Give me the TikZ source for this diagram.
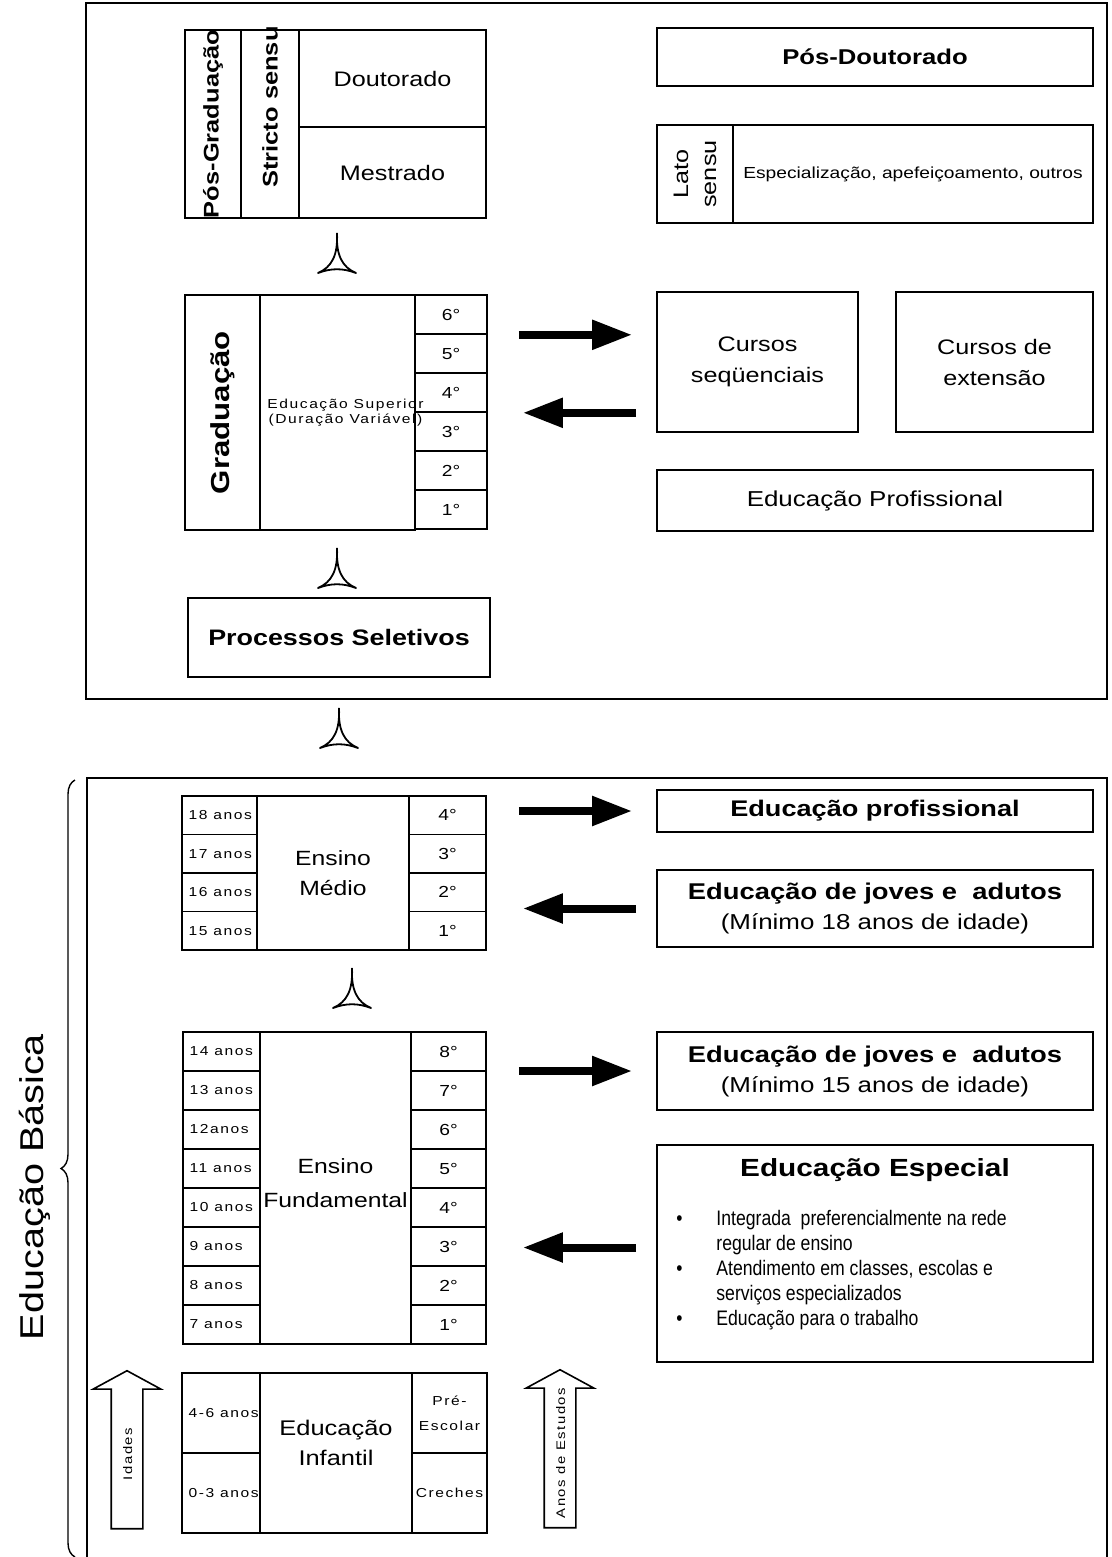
\documentclass[tikz,border=0pt]{standalone}
\usepackage{fontspec}
\setmainfont[FakeStretch=1.2]{Liberation Sans}
\newfontfamily\spacedfont[FakeStretch=1.2,LetterSpace=12]{Liberation Sans}
\newfontfamily\narrowfont[FakeStretch=0.84]{Liberation Sans}
\usepackage{tikz}
\usetikzlibrary{positioning}
\usetikzlibrary{arrows.meta}
\usetikzlibrary{shapes.arrows}
\usetikzlibrary{decorations.pathreplacing}

\tikzset{
  tri/.pic={\draw[line width=0.9pt,line join=round]
    (0,0) .. controls (1,22) and (-5,34) .. (-19,40)
    .. controls (-6,35) and (6,35) .. (19,40)
    .. controls (5,34) and (-1,22) .. (0,0);}
}

\begin{document}
\begin{tikzpicture}[
    x=0.5pt, y=-0.5pt,
    box/.style={draw,line width=0.8pt,inner sep=0pt},
    cell/.style 2 args={box,minimum width=#1,minimum height=#2},
    txt/.style={font=\fontsize{10.5}{15.5}\selectfont,align=center},
    btxt/.style={font=\fontsize{11.3}{13.5}\selectfont\bfseries,align=center},
    yr/.style={font=\fontsize{8}{9}\selectfont},
    smalltxt/.style={font=\spacedfont\fontsize{6.5}{12.5}\selectfont,align=center},
    agetxt/.style={font=\spacedfont\fontsize{6.5}{8}\selectfont,anchor=west,inner sep=0pt},
    fatarrow/.style={line width=4pt,-{Triangle[length=20pt,width=14pt]}},
    hollow/.style={single arrow,draw,line width=0.8pt,rotate=90,
      inner xsep=2pt,inner ysep=5pt,text height=5pt,text depth=0pt,
      single arrow head extend=9pt,single arrow tip angle=123,
      minimum height=79pt,font=\spacedfont\fontsize{6.2}{8}\selectfont}
    ]

    \useasboundingbox (0,0) rectangle (1112,1557);

    % educacao superior
    \node[cell={510.5pt}{348pt}] (sup) at (596.5,351) {};

    \node[cell={28pt}{94pt}] (posg) at (213,124) {};
    \node[btxt,rotate=90,font=\fontsize{10.6}{12}\selectfont\bfseries] (posgt) at (posg.center) {Pós-Graduação};
    \node[cell={29pt}{94pt}] (ss) at (270,124) {};
    \node[btxt,rotate=90,font=\fontsize{10.6}{12}\selectfont\bfseries] (sst) at ([yshift=8.5pt]ss.center) {Stricto sensu};
    \node[cell={93.5pt}{48.5pt},txt] (dout) at (392.5,78.5) {Doutorado};
    \node[cell={93.5pt}{45.5pt},txt] (mest) at (392.5,172.5) {Mestrado};

    \pic at (337,233) {tri};

    \node[cell={37.5pt}{117.5pt}] (grad) at (222.5,412.5) {};
    \node[btxt,rotate=90,font=\fontsize{13}{15}\selectfont\bfseries] (gradt) at (grad.center) {Graduação};
    \node[cell={77.5pt}{117.5pt}] (edsup) at (337.5,412.5) {};
    \node[smalltxt,font=\spacedfont\fontsize{6.5}{7.5}\selectfont,inner sep=0pt] (edsupt) at ([xshift=4pt]edsup.center) {Educação Superior\\(Duração Variável)};
    \foreach \n [count=\i] in {6,5,4,3,2,1}
      \node[cell={36pt}{19.5pt},yr] (gy\n) at (451,{295+39*\i-19.5}) {\n{}°};

    \pic at (337,548) {tri};
    \node[cell={151pt}{39.5pt},btxt,font=\fontsize{11.2}{13}\selectfont\bfseries] (proc) at (339,637.5) {Processos Seletivos};

    \node[cell={218pt}{29pt},btxt,font=\fontsize{10.7}{13}\selectfont\bfseries] (posdout) at (875,57) {Pós-Doutorado};
    \node[cell={38pt}{49pt}] (lato) at (695,174) {};
    \node[txt,rotate=90,font=\fontsize{10.5}{14}\selectfont] (latot) at (lato.center) {Lato\\sensu};
    \node[cell={180pt}{49pt},font=\fontsize{8}{9}\selectfont] (espec) at (913,174) {Especialização, apefeiçoamento, outros};

    \node[cell={100.5pt}{70pt},txt] (seq) at (757.5,362) {Cursos\\seqüenciais};
    \node[cell={98.5pt}{70pt},txt] (ext) at (994.5,362) {Cursos de\\extensão};
    \node[cell={218pt}{30.5pt},txt,font=\fontsize{10.8}{13}\selectfont] (eprof) at (875,500.5) {Educação Profissional};

    \draw[fatarrow,shorten <=15.5pt,shorten >=12pt] (gy6.south east) -- (gy6.south east -| seq.west);
    \draw[fatarrow,shorten <=10pt,shorten >=17.5pt] (gy4.south east -| seq.west) -- (gy4.south east);

    \pic at (339,708) {tri};

    % educacao basica
    \draw[box] (87,1557) |- (1107,778) -- (1107,1557);
    \draw[line width=0.7pt,decorate,decoration={brace,amplitude=7pt}] (75,1557) -- (75,780);
    \node[font=\fontsize{16.5}{18}\selectfont,rotate=90] (basica) at (35,1187) {Educação Básica};

    \foreach \a/\n [count=\i] in {18 anos/4,17 anos/3,16 anos/2,15 anos/1} {
      \node[cell={37.5pt}{19.25pt}] (ma\i) at (219.5,{796+38.5*\i-19.25}) {};
      \node[agetxt] (mat\i) at ([xshift=3.5pt]ma\i.west) {\a};
      \node[cell={38.5pt}{19.25pt},yr] (my\n) at (447.5,{796+38.5*\i-19.25}) {\n{}°};
    }
    \node[cell={76pt}{77pt},txt,font=\fontsize{10.3}{15}\selectfont] (medio) at (333,873) {Ensino\\Médio};

    \pic at (352,968) {tri};

    \foreach \a/\n [count=\i] in {14 anos/8,13 anos/7,12anos/6,11 anos/5,10 anos/4,9 anos/3,8 anos/2,7 anos/1} {
      \node[cell={38.5pt}{19.5pt}] (fa\i) at (221.5,{1032+39*\i-19.5}) {};
      \node[agetxt] (fat\i) at ([xshift=3.5pt]fa\i.west) {\a};
      \node[cell={37.5pt}{19.5pt},yr] (fy\n) at (448.5,{1032+39*\i-19.5}) {\n{}°};
    }
    \node[cell={75.5pt}{156pt}] (fund) at (335.5,1188) {};
    \node[txt,font=\fontsize{10.3}{17}\selectfont] (fundt) at ([yshift=2.5pt]fund.center) {Ensino\\Fundamental};

    \node[cell={39pt}{40pt}] (ia2) at (221,1413) {};
    \node[agetxt] (iat2) at ([xshift=3.5pt]ia2.west) {4-6 anos};
    \node[cell={39pt}{40pt}] (ia1) at (221,1493) {};
    \node[agetxt] (iat1) at ([xshift=3.5pt]ia1.west) {0-3 anos};
    \node[cell={76pt}{80pt}] (inf) at (336,1453) {};
    \node[txt,font=\fontsize{10.6}{15}\selectfont] (inft) at ([yshift=5pt]inf.center) {Educação\\Infantil};
    \node[cell={37.5pt}{40pt},smalltxt] (pre) at (449.5,1413) {Pré-\\Escolar};
    \node[cell={37.5pt}{40pt},smalltxt] (cre) at (449.5,1493) {Creches};

    \node[hollow] (idades) at (127,1454) {Idades};
    \node[hollow] (anos) at (560,1453) {Anos de Estudos};

    \node[cell={218pt}{21pt},btxt] (eprof2) at (875,811) {Educação profissional};
    \node[cell={218pt}{38.5pt},txt,font=\fontsize{10.8}{15}\selectfont] (eja18) at (875,908.5)
      {{\bfseries\fontsize{11.4}{13}\selectfont Educação de joves e\ \ adutos}\\(Mínimo 18 anos de idade)};
    \node[cell={218pt}{39pt},txt,font=\fontsize{10.8}{15}\selectfont] (eja15) at (875,1071)
      {{\bfseries\fontsize{11.4}{13}\selectfont Educação de joves e\ \ adutos}\\(Mínimo 15 anos de idade)};
    \node[cell={218pt}{108.5pt}] (esp) at (875,1253.5) {};
    \node[btxt,font=\fontsize{12.4}{14}\selectfont\bfseries] (espt) at (875,1170) {Educação Especial};
    \node[anchor=north west,inner sep=0pt,font=\narrowfont\fontsize{10.5}{12.5}\selectfont] (espl) at (676,1208)
      {\begin{tabular}{@{}p{20pt}@{}l@{}}
        \textbullet & Integrada\ \ preferencialmente na rede\\
                    & regular de ensino\\
        \textbullet & Atendimento em classes, escolas e\\
                    & serviços especializados\\
        \textbullet & Educação para o trabalho
       \end{tabular}};

    \draw[fatarrow,shorten <=16pt,shorten >=12pt] (my4.east |- eprof2.west) -- (eprof2.west);
    \draw[fatarrow,shorten <=10pt,shorten >=18pt] (eja18.west) -- (my4.east |- eja18.west);
    \draw[fatarrow,shorten <=16pt,shorten >=12pt] (fy8.east |- eja15.west) -- (eja15.west);
    \draw[fatarrow,shorten <=10pt,shorten >=18pt] ([yshift=3pt]esp.west) -- ([yshift=3pt]fy8.east |- esp.west);

  \end{tikzpicture}
\end{document}
